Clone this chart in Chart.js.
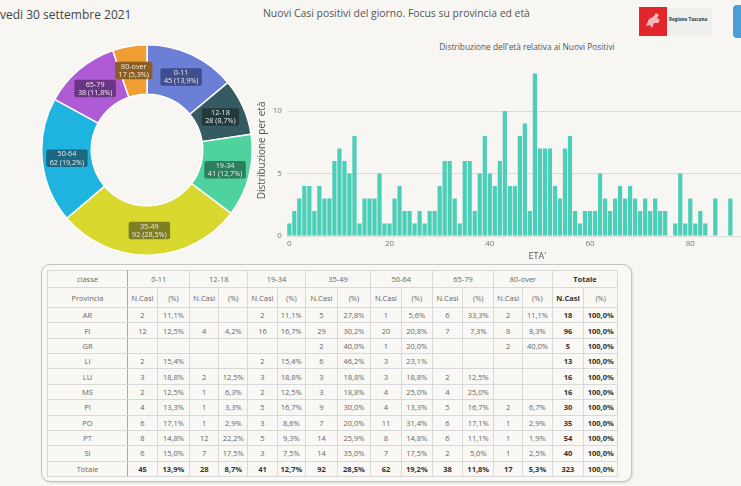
<!DOCTYPE html>
<html><head><meta charset="utf-8">
<script src="https://cdn.jsdelivr.net/npm/chart.js@4.4.0/dist/chart.umd.min.js"></script>
<style>
html,body{margin:0;padding:0;width:741px;height:486px;overflow:hidden;background:#f7f6f2;font-family:"Open Sans",sans-serif;position:relative;}
.abs{position:absolute;}
#date{left:0;top:6px;font-size:12px;color:#444;white-space:nowrap;}
#title{left:263px;top:6px;font-size:10.4px;color:#555;white-space:nowrap;}
#btitle{left:427px;top:41px;width:200px;text-align:center;font-size:8.3px;color:#555;white-space:nowrap;}
#logoRed{left:639px;top:7px;width:28px;height:29px;background:#e2262b;}
#logoBox{left:667px;top:8px;width:45px;height:28px;background:#efefee;}
#logoTxt{left:669px;top:16px;font-size:4.6px;font-weight:bold;color:#333;white-space:nowrap;}
#logoBlue{left:733px;top:5px;width:22px;height:33px;background:#4b9fd9;border-radius:4px;}
#box{left:41px;top:264px;width:589px;height:216px;border:1.5px solid #c3c3c3;border-radius:9px;background:#f9f8f5;box-shadow:1px 1px 2px rgba(0,0,0,0.12);}
#tbl{left:46.7px;top:270px;}
table{border-collapse:collapse;table-layout:fixed;font-size:7.5px;color:#666;}
td{border:1px solid #d8d8d8;text-align:center;padding:0;white-space:nowrap;overflow:hidden;}
tr.h1 td{height:16px;}
tr.h2 td{height:19px;}
tr.d td{height:14.36px;}
td.b{font-weight:bold;color:#333;}
td.prov{border-right:1px solid #a8a8a8;}
</style></head>
<body>
<div id="date" class="abs">vedi 30 settembre 2021</div>
<div id="title" class="abs">Nuovi Casi positivi del giorno. Focus su provincia ed età</div>
<div id="logoRed" class="abs"><svg width="28" height="29" viewBox="0 0 28 29"><path d="M7 19 L10 12 L14 10 L17 6 L20 8 L18 11 L21 13 L19 16 L15 16 L13 21 L11 18 Z" fill="#f3d6d6" opacity="0.85"/></svg></div>
<div id="logoBox" class="abs"></div>
<div id="logoTxt" class="abs">Regione Toscana</div>
<div id="logoBlue" class="abs"></div>
<div id="btitle" class="abs">Distribuzione dell'età relativa ai Nuovi Positivi</div>
<canvas id="donut" class="abs" width="212" height="212" style="left:41px;top:44px;width:212px;height:212px;"></canvas>
<canvas id="bars" class="abs" width="536" height="207" style="left:252px;top:55px;width:536px;height:207px;"></canvas>
<div id="box" class="abs"></div>
<div id="tbl" class="abs"></div>
<script>
// ---- data ----
const classes = ['0-11','12-18','19-34','35-49','50-64','65-79','80-over'];
const classCases = [45, 28, 41, 92, 62, 38, 17];

const ages = [0,1,2,3,4,5,6,7,8,9,10,11,12,13,14,15,16,17,18,19,20,21,22,23,24,25,26,27,28,29,
  30,31,32,33,34,35,36,37,38,39,40,41,42,43,44,45,46,47,48,49,50,51,52,53,54,55,56,57,58,59,
  60,61,62,63,64,65,66,67,68,69,70,71,72,73,74,75,76,77,78,79,80,81,82,83,84,85,86,87,88];
const ageCases = [1,2,3,4,4,2,4,3,3,6, 7,6,5,8,1,3,3,3,5,1, 1,3,4,2,2,1,2,1,2,2,
  4,6,6,3,1,6,6,2,5,8, 5,4,6,10,4,4,8,9,2,13, 7,7,7,4,3,7,8,2,1,2,
  2,2,5,3,2,3,4,3,4,3, 2,3,2,3,2,2,0,1,5,1, 3,1,2,1,0,3,0,0,3];
const xTickValues = [0, 20, 40, 60, 80];
const yTickValues = [0, 5, 10];

const provinces = ['AR','FI','GR','LI','LU','MS','PI','PO','PT','SI'];
const casi_0_11    = [2, 12, null, 2, 3, 2, 4, 6, 8, 6];
const casi_12_18   = [null, 4, null, null, 2, 1, 1, 1, 12, 7];
const casi_19_34   = [2, 16, null, 2, 3, 2, 5, 3, 5, 3];
const casi_35_49   = [5, 29, 2, 6, 3, 3, 9, 7, 14, 14];
const casi_50_64   = [1, 20, 1, 3, 3, 4, 4, 11, 8, 7];
const casi_65_79   = [6, 7, null, null, 2, 4, 5, 6, 6, 2];
const casi_80_over = [2, 8, 2, null, null, null, 2, 1, 1, 1];
const provinceTotals = [18, 96, 5, 13, 16, 16, 30, 35, 54, 40];
const grandTotal = 323;

// ---- styles ----
const sliceColors = ['#6b7fd7','#365a62','#4ed39e','#d8d82f','#1fb4e0','#b05bd6','#f09d33'];
const labelBg = ['#3f4e8e','#22393d','#2e7e5d','#7e7f20','#1b6883','#6a3683','#8c5d1f'];
const barColor = '#4bcfb9';

function pct(n, t){ return (n / t * 100).toFixed(1).replace('.', ',') + '%'; }

// ---- donut ----
const donutLabels = {
  id: 'donutLabels',
  afterDatasetsDraw(chart){
    const ctx = chart.ctx;
    const total = classCases.reduce((a,b)=>a+b,0);
    chart.getDatasetMeta(0).data.forEach((arc, i) => {
      const p = arc.tooltipPosition();
      const l1 = classes[i];
      const l2 = classCases[i] + ' (' + pct(classCases[i], total) + ')';
      ctx.save();
      ctx.font = '7.2px "Open Sans"';
      const w = Math.max(ctx.measureText(l1).width, ctx.measureText(l2).width) + 7;
      const h = 17.5;
      ctx.fillStyle = labelBg[i];
      ctx.beginPath();
      ctx.roundRect(p.x - w/2, p.y - h/2, w, h, 2);
      ctx.fill();
      ctx.fillStyle = '#ececec';
      ctx.textAlign = 'center';
      ctx.textBaseline = 'middle';
      ctx.fillText(l1, p.x, p.y - 3.9);
      ctx.fillText(l2, p.x, p.y + 4.3);
      ctx.restore();
    });
  }
};

new Chart(document.getElementById('donut'), {
  type: 'doughnut',
  data: { labels: classes, datasets: [{ data: classCases, backgroundColor: sliceColors, borderColor: '#ffffff', borderWidth: 1.5 }] },
  options: {
    responsive: false, animation: false, cutout: '53%',
    layout: { padding: 0 },
    plugins: { legend: { display: false }, tooltip: { enabled: false } }
  },
  plugins: [donutLabels]
});

// ---- bars ----
new Chart(document.getElementById('bars'), {
  type: 'bar',
  data: { datasets: [{ data: ages.map((a, i) => ({ x: a, y: ageCases[i] })), backgroundColor: barColor, barPercentage: 0.84, categoryPercentage: 1 }] },
  options: {
    responsive: false, animation: false,
    layout: { padding: { top: 9.75, left: 0, right: 0, bottom: 0 } },
    plugins: { legend: { display: false }, tooltip: { enabled: false } },
    scales: {
      x: {
        type: 'linear', min: -0.5, max: 99.5, offset: false,
        afterBuildTicks(s){ s.ticks = xTickValues.map(v => ({ value: v })); },
        afterFit(s){ s.height = 26; },
        grid: { display: false, drawTicks: false },
        border: { display: false },
        ticks: { padding: 3, color: '#777', font: { size: 8, family: 'Open Sans' }, maxRotation: 0 },
        title: { display: true, text: "ETA'", color: '#555', padding: { top: 0, bottom: 0 }, font: { size: 9, family: 'Open Sans' } }
      },
      y: {
        min: 0, max: 13.7,
        afterBuildTicks(s){ s.ticks = yTickValues.map(v => ({ value: v })); },
        afterFit(s){ s.width = 34.8; },
        grid: { color: '#dddbd6', drawTicks: false },
        border: { display: false },
        ticks: { padding: 5, color: '#777', font: { size: 8, family: 'Open Sans' } },
        title: { display: true, text: 'Distribuzione per età', color: '#555', padding: { top: 4, bottom: 4 }, font: { size: 10, family: 'Open Sans' } }
      }
    }
  }
});

// ---- table ----
const colWidths = [80.6, 29.4, 32.6, 29, 29, 29.4, 28.3, 32, 33, 31, 30.7, 30.6, 31, 29, 29.4, 31.6, 34];
const classCols = [casi_0_11, casi_12_18, casi_19_34, casi_35_49, casi_50_64, casi_65_79, casi_80_over];
let html = '<table><colgroup>' + colWidths.map(w => '<col style="width:' + w + 'px">').join('') + '</colgroup>';
html += '<tr class="h1"><td class="prov">classe</td>' + classes.map(c => '<td colspan="2">' + c + '</td>').join('') + '<td colspan="2" class="b">Totale</td></tr>';
html += '<tr class="h2"><td class="prov">Provincia</td>' + classes.map(() => '<td>N.Casi</td><td>(%)</td>').join('') + '<td class="b">N.Casi</td><td>(%)</td></tr>';
provinces.forEach((p, r) => {
  html += '<tr class="d"><td class="prov">' + p + '</td>';
  classCols.forEach(col => {
    const v = col[r];
    html += v == null ? '<td></td><td></td>' : '<td>' + v + '</td><td>' + pct(v, provinceTotals[r]) + '</td>';
  });
  html += '<td class="b">' + provinceTotals[r] + '</td><td class="b">' + pct(provinceTotals[r], provinceTotals[r]) + '</td></tr>';
});
html += '<tr class="d"><td class="prov">Totale</td>' + classCases.map(v => '<td class="b">' + v + '</td><td class="b">' + pct(v, grandTotal) + '</td>').join('') + '<td class="b">' + grandTotal + '</td><td class="b">' + pct(grandTotal, grandTotal) + '</td></tr>';
html += '</table>';
document.getElementById('tbl').innerHTML = html;
</script>
</body></html>
